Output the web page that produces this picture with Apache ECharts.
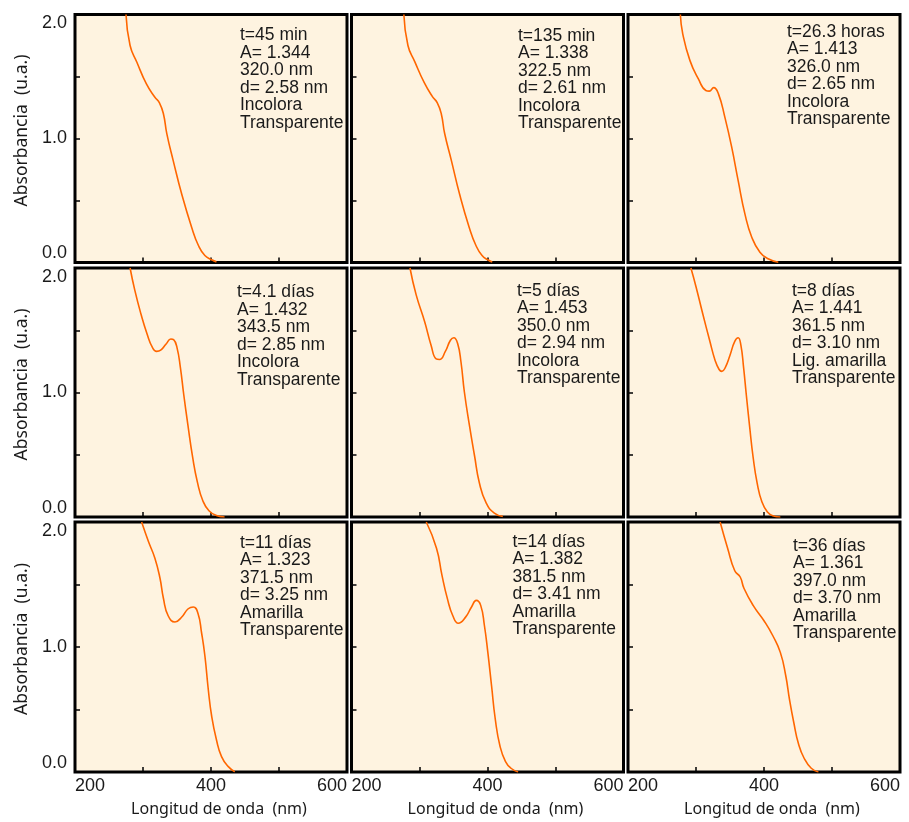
<!DOCTYPE html>
<html>
<head>
<meta charset="utf-8">
<script src="https://cdn.jsdelivr.net/npm/echarts@6/dist/echarts.min.js"></script>
<style>
  html, body { margin:0; padding:0; background:#ffffff; }
  #chart { width:909px; height:822px; }
</style>
</head>
<body>
<div id="chart"></div>
<script>
// Absorbance spectra, [wavelength nm, absorbance u.a.]
const curve45min  = [[275,2.0],[281,1.75],[291,1.615],[305,1.44],[317.5,1.333],[324,1.29],[330,1.2],[335,1.04],[344.5,0.82],[357,0.55],[371.5,0.285],[381.5,0.137],[391,0.056],[401,0.022],[408,0.005]];
const curve135min = [[277,2.0],[283,1.75],[293,1.62],[307,1.45],[319,1.338],[326,1.29],[332,1.2],[337,1.04],[347,0.82],[359,0.55],[373,0.285],[383,0.137],[392,0.056],[401,0.02],[407,0.004]];
const curve26h    = [[277,2.0],[280.5,1.844],[291,1.63],[303.5,1.48],[314.5,1.387],[319.5,1.382],[326,1.41],[333,1.36],[342.5,1.17],[352.5,0.93],[362,0.66],[372,0.39],[382,0.204],[394,0.083],[406,0.03],[421,0.002]];
const curve4d     = [[281,2.0],[288,1.82],[297,1.63],[306,1.47],[314,1.36],[320,1.33],[326,1.34],[334,1.39],[341,1.43],[345,1.425],[350,1.36],[355,1.2],[360,0.98],[366,0.74],[373,0.48],[380,0.28],[388,0.13],[397,0.05],[408,0.012],[420,0.0]];
const curve5d     = [[286,2.0],[295,1.786],[307.5,1.57],[317,1.38],[324.5,1.27],[329.5,1.265],[338,1.33],[345.5,1.42],[350.5,1.44],[356,1.395],[361,1.245],[366,1.004],[373.5,0.734],[381,0.49],[388,0.275],[398,0.113],[410,0.032],[422.5,0.005]];
const curve8d     = [[292.5,2.0],[300,1.85],[310,1.63],[320,1.42],[328,1.26],[334,1.185],[338,1.17],[343,1.2],[350,1.3],[357,1.41],[362,1.44],[366,1.38],[370,1.2],[374,0.98],[379,0.72],[384,0.48],[390,0.27],[397,0.12],[405,0.04],[413,0.01],[424,0.0]];
const curve11d    = [[298,2.0],[308,1.844],[317.5,1.71],[325,1.55],[330,1.39],[337,1.25],[347,1.2],[357,1.24],[366.5,1.306],[374,1.32],[381,1.266],[386,1.118],[391,0.93],[396,0.66],[401,0.446],[408,0.258],[415.5,0.123],[425.5,0.043],[435,0.002]];
const curve14d    = [[310,2.0],[325,1.79],[333,1.575],[341,1.387],[349,1.25],[357,1.19],[367.5,1.237],[376.5,1.32],[383.5,1.373],[390,1.333],[395.5,1.17],[400.5,0.957],[406,0.688],[411.5,0.42],[418.5,0.204],[426.5,0.083],[434.5,0.03],[445,0.0]];
const curve36d    = [[335.5,2.0],[346.5,1.79],[357,1.61],[365,1.56],[370.5,1.47],[384,1.333],[400,1.21],[413,1.09],[424,0.957],[432,0.77],[437.5,0.58],[444,0.39],[450.5,0.23],[459,0.11],[469.5,0.03],[480,0.0]];

const curves = [curve45min, curve135min, curve26h, curve4d, curve5d, curve8d, curve11d, curve14d, curve36d];

const panelNotes = [
  ['t=45 min',    'A= 1.344', '320.0 nm', 'd= 2.58 nm', 'Incolora',     'Transparente'],
  ['t=135 min',   'A= 1.338', '322.5 nm', 'd= 2.61 nm', 'Incolora',     'Transparente'],
  ['t=26.3 horas','A= 1.413', '326.0 nm', 'd= 2.65 nm', 'Incolora',     'Transparente'],
  ['t=4.1 días',  'A= 1.432', '343.5 nm', 'd= 2.85 nm', 'Incolora',     'Transparente'],
  ['t=5 días',    'A= 1.453', '350.0 nm', 'd= 2.94 nm', 'Incolora',     'Transparente'],
  ['t=8 días',    'A= 1.441', '361.5 nm', 'd= 3.10 nm', 'Lig. amarilla','Transparente'],
  ['t=11 días',   'A= 1.323', '371.5 nm', 'd= 3.25 nm', 'Amarilla',     'Transparente'],
  ['t=14 días',   'A= 1.382', '381.5 nm', 'd= 3.41 nm', 'Amarilla',     'Transparente'],
  ['t=36 días',   'A= 1.361', '397.0 nm', 'd= 3.70 nm', 'Amarilla',     'Transparente']
];

const xTickLabels = [200, 400, 600];
const yTickLabels = [0, 1, 2];
const yAxisTitle = 'Absorbancia  (u.a.)';
const xAxisTitle = 'Longitud de onda  (nm)';

// layout
const colLeft = [75, 351.5, 628];
const rowTop = [14.5, 268, 522];
const rowH = [248, 249, 250];
const panelW = 272;
const noteOffset = [[165,21],[166.5,21.5],[159,17.5],[162,24.5],[165.5,23],[164,23],[165,21],[161,20],[165,24]];

const bg = '#fef3e0';
const lineCol = '#ff6600';
const txtCol = '#1a1a1a';
const tickFont = "'Liberation Sans', Arial, sans-serif";
const titleFont = "'Noto Sans', sans-serif";

const grids = [], xAxes = [], yAxes = [], series = [], graphics = [];
for (let i = 0; i < 9; i++) {
  const r = Math.floor(i / 3), c = i % 3;
  grids.push({
    left: colLeft[c], top: rowTop[r], width: panelW, height: rowH[r],
    show: true, backgroundColor: bg, borderColor: '#000', borderWidth: 3
  });
  xAxes.push({
    type: 'value', gridIndex: i, min: 200, max: 600, interval: 100,
    axisLine: { show: false },
    axisTick: { show: true, inside: true, length: 5, lineStyle: { color: '#000', width: 1.5 } },
    splitLine: { show: false },
    axisLabel: {
      show: r === 2, margin: 5, color: txtCol, fontSize: 18, fontFamily: tickFont,
      alignMinLabel: 'left', alignMaxLabel: 'right',
      formatter: v => xTickLabels.includes(v) ? String(v) : ''
    }
  });
  yAxes.push({
    type: 'value', gridIndex: i, min: 0, max: 2, interval: 0.5,
    axisLine: { show: false },
    axisTick: { show: true, inside: true, length: 5, lineStyle: { color: '#000', width: 1.5 } },
    splitLine: { show: false },
    axisLabel: {
      show: c === 0, margin: 8, color: txtCol, fontSize: 18, fontFamily: tickFont,
      verticalAlignMinLabel: 'bottom', verticalAlignMaxLabel: 'top',
      formatter: v => yTickLabels.includes(v) ? v.toFixed(1) : ''
    }
  });
  series.push({
    type: 'line', xAxisIndex: i, yAxisIndex: i, data: curves[i],
    showSymbol: false, smooth: 0.5, clip: true,
    lineStyle: { color: lineCol, width: 1.6 }, silent: true
  });
  graphics.push({
    type: 'text', x: colLeft[c] + noteOffset[i][0], y: rowTop[r] + noteOffset[i][1] - 8.75,
    style: {
      text: panelNotes[i].join('\n'), fill: txtCol, fontSize: 17.5, lineHeight: 17.5,
      fontFamily: tickFont, textAlign: 'left', textVerticalAlign: 'top'
    }, z: 10
  });
}
for (let r = 0; r < 3; r++) {
  graphics.push({
    type: 'text', x: 22, y: rowTop[r] + rowH[r] / 2 - 8, rotation: Math.PI / 2,
    style: {
      text: yAxisTitle, fill: txtCol, fontSize: 17.5, fontFamily: titleFont,
      textAlign: 'center', textVerticalAlign: 'middle'
    }
  });
}
for (let c = 0; c < 3; c++) {
  graphics.push({
    type: 'text', x: colLeft[c] + panelW / 2 + 8, y: 809,
    style: {
      text: xAxisTitle, fill: txtCol, fontSize: 16, fontFamily: titleFont,
      textAlign: 'center', textVerticalAlign: 'middle'
    }
  });
}

const chart = echarts.init(document.getElementById('chart'), null, { renderer: 'canvas' });
chart.setOption({
  backgroundColor: '#ffffff',
  animation: false,
  grid: grids,
  xAxis: xAxes,
  yAxis: yAxes,
  series: series,
  graphic: graphics
});
window.addEventListener('resize', () => chart.resize(), { passive: true });
</script>
</body>
</html>
